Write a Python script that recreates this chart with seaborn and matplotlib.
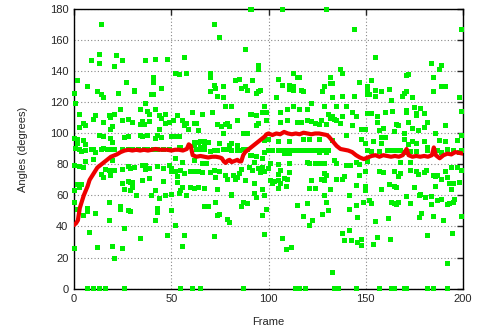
import numpy as np
import pandas as pd
import matplotlib
matplotlib.use("Agg")
import matplotlib.pyplot as plt
import seaborn as sns

# --- Données : angles détectés par frame, par zone ---
pts_top_left = [(14, 170.5), (13, 151), (9, 147), (13, 145), (22, 150), (25, 147), (21, 143), (37, 147),
                (42, 148), (48, 148), (2, 134), (7, 130), (0, 126), (12, 127), (14, 125), (15, 123),
                (23, 126), (27, 133), (31, 128), (31, 127), (41, 136), (41, 133), (45, 129), (40, 125), (41, 125)]
pts_top_mid1 = [(91, 180), (72, 170), (75, 162), (88, 154), (57, 149), (95, 144), (95, 141), (52, 139),
                (54, 138), (58, 139), (70, 139), (70, 136), (72, 131), (73, 129), (77, 130), (70, 127),
                (74, 124), (77, 123), (83, 134), (85, 135), (86, 129), (88, 130), (89, 128), (92, 134),
                (94, 126), (95, 127), (96, 128)]
pts_top_mid2 = [(107, 180), (130, 180), (144, 167), (137, 141), (138, 139), (105, 135), (113, 139), (115, 136),
                (116, 136), (107, 131), (111, 131), (111, 128.5), (113, 130), (113, 128), (117, 128), (118, 127),
                (132, 136), (132, 132), (133, 132), (129, 130), (128, 127), (147, 133), (104, 123), (133, 123),
                (138, 124), (144, 124)]
pts_top_right = [(199, 167), (155, 149), (184, 145), (189, 144), (188, 141), (171, 137.5), (172, 138), (153, 134),
                 (185, 136), (151, 130), (151, 127), (151, 125), (152, 125), (155, 128), (155, 124), (158, 127),
                 (162, 128.5), (169, 124), (170, 126), (171, 127), (174, 123), (185, 127), (189, 130), (191, 130),
                 (198, 123)]
pts_mid_left = [(1, 119.5), (37, 119.5), (24, 115.6), (34, 115.6), (38, 114.3), (3, 112.4), (11, 111.7), (18, 111.7),
                (21, 112.4), (19, 110.4), (39, 112.4), (42, 115.6), (44, 111.7), (45, 109.8), (47, 112.4), (10, 109.1),
                (5, 106.6), (6, 105.3), (3, 104), (15, 107.2), (20, 104.6), (19, 102.7), (25, 108.5), (28, 109.1),
                (30, 107.2), (34, 105.9), (35, 107.8), (36, 105.9), (39, 107.8), (44, 102.7), (47, 106.6),
                (0, 96.9), (2, 96.2), (5, 95.6), (13, 98.8), (15, 98.2), (19, 96.9), (20, 94.3), (26, 97.5),
                (28, 98.2), (34, 98.8), (35, 98.2), (38, 98.8), (42, 96.9), (43, 98.8), (45, 97.5), (6, 93), (2, 93.6),
                (1, 90.4), (3, 89.8), (4, 88.5), (6, 89.1), (9, 89.8), (10, 89.8), (11, 87.9), (14, 89.8), (15, 90.4),
                (17, 89.8), (19, 89.8), (21, 89.8), (25, 89.8), (28, 89.8), (30, 89.8), (33, 89.8), (36, 89.8),
                (38, 89.8), (41, 89.8), (43, 89.8), (46, 89.8),
                (6, 82), (10, 83.3), (0, 79.5), (3, 78.8), (5, 78.2), (20, 82.7), (28, 78.8), (29, 77.5), (31, 78.2),
                (35, 79.5), (37, 79.5), (37, 76.9), (39, 77.5), (43, 78.8), (46, 77.5), (25, 76.9), (16, 76.9),
                (18, 76.2), (19, 74.9), (14, 73.6), (15, 71.7), (19, 73), (21, 76.2),
                (2, 67.2), (4, 67.2), (3, 65.3), (0, 63.3), (25, 67.9), (28, 69.1), (29, 68.5), (30, 68.5),
                (35, 69.8), (39, 71.1), (26, 64), (29, 63.3), (30, 65.3), (42, 63.3), (46, 69.1)]
pts_mid_mid1 = [(53, 111.7), (61, 113.7), (66, 112.4), (62, 106.6), (63, 106.6), (64, 102), (59, 102.7), (71, 113.7),
                (76, 104.6), (78, 105.9), (79, 106.6), (74, 105.9), (77, 100.1), (80, 104.6), (84, 108.5), (78, 117.5),
                (81, 117.5), (91, 112.4), (94, 111.7), (97, 113.7), (98, 117.5), (95, 106.6), (94, 105.3), (89, 100.1),
                (87, 100.1), (51, 108.5), (49, 107.2), (56, 108.5), (57, 105.3), (58, 106.6),
                (50, 98.2), (52, 98.2), (54, 98.2), (62, 94.3), (64, 94.3), (65, 94.9), (67, 94.9), (69, 94.3),
                (67, 93), (62, 92.4), (65, 91.1), (75, 93.6), (80, 92.4), (81, 93.6), (84, 92.4), (84, 89.1),
                (85, 89.1), (81, 89.1), (74, 89.1), (72, 89.1), (70, 88.5), (67, 89.8), (55, 91.1), (54, 91.1),
                (49, 89.8), (63, 89.8), (65, 89.8), (77, 89.8), (79, 89.8), (87, 89.8), (89, 89.8),
                (98, 95.6), (98, 87.9), (91, 85.9), (94, 85.3), (97, 84), (93, 81.4), (56, 81.4), (52, 84),
                (49, 79.5), (50, 77.5), (62, 82.7), (66, 80.7), (68, 80.7), (72, 76.2), (75, 75.6), (70, 74.9),
                (66, 74.9), (64, 75.6), (62, 75.6), (60, 75.6), (57, 74.3), (55, 76.2), (52, 75.6), (50, 75.6),
                (53, 72.4), (53, 68.5), (56, 65.2), (55, 63.3), (54, 61.4), (50, 60.7), (60, 65.2), (62, 64.6),
                (64, 65.2), (67, 64.6), (74, 64), (73, 71.7), (78, 73), (79, 70.4), (82, 73), (83, 70.4),
                (85, 74.3), (88, 69.8), (86, 76.9), (90, 78.2), (92, 76.2), (95, 77.5), (97, 78.2), (98, 75.6),
                (96, 74.9), (93, 67.9), (93, 61.4), (97, 64), (81, 60.7), (84, 71.7)]
pts_mid_mid2 = [(113, 117.5), (122, 119.5), (129, 117.5), (135, 117.5), (140, 117.5), (99, 113.7), (106, 113.7),
                (110, 115.6), (116, 115.6), (120, 115.6), (131, 112.4), (133, 111.1), (134, 109.1), (132, 109.8),
                (138, 111.1), (143, 113.7), (145, 111.1), (99, 108.5), (106, 107.2), (110, 108.5), (115, 107.2),
                (117, 107.2), (120, 108.5), (122, 107.8), (124, 106.6), (126, 105.9), (127, 108.5), (130, 105.9),
                (135, 108.5), (137, 106.6), (143, 105.3), (148, 102.7), (140, 98.8), (148, 96.2),
                (100, 96.2), (105, 94.9), (111, 94.9), (118, 96.2), (121, 96.2), (126, 96.2), (133, 95.6),
                (100, 89.1), (102, 89.1), (105, 89.1), (107, 89.1), (109, 89.1), (111, 89.1), (113, 89.1),
                (115, 89.1), (117, 89.1), (119, 89.1), (121, 89.1), (123, 89.1), (125, 89.1), (127, 89.1),
                (129, 89.1), (131, 89.1), (108, 87.2), (111, 87.2), (126, 87.9), (130, 87.9),
                (101, 80.7), (105, 80.1), (111, 80.7), (120, 81.4), (121, 80.7), (124, 80.7), (126, 80.7),
                (129, 80.7), (134, 82.7), (135, 80.7), (140, 79.5), (142, 79.5), (145, 81.4), (147, 80.1),
                (100, 77.5), (105, 73.6), (106, 76.2), (111, 74.9), (108, 71.1), (105, 69.8), (103, 69.1),
                (101, 69.8), (102, 67.9), (106, 67.9), (110, 70.4), (129, 74.3), (130, 73), (129, 69.8),
                (122, 69.8), (127, 70.4), (132, 64), (135, 70.4), (138, 70.4), (139, 72.4), (147, 73),
                (105, 64.6), (109, 65.9), (121, 64.6), (124, 64.6), (145, 66.5)]
pts_mid_right = [(163, 121), (151, 113), (153, 113), (156, 111.1), (156, 107.2), (160, 113.7), (164, 114.3),
                 (171, 114.9), (171, 113.7), (175, 116.9), (178, 116.2), (176, 113), (180, 113), (176, 111.7),
                 (172, 107.2), (182, 107.2), (191, 105.3), (166, 105.9), (167, 105.3), (165, 101.4), (157, 102),
                 (159, 103.3), (174, 103.3), (177, 102), (180, 104), (199, 114.3), (150, 102.7), (170, 100.1),
                 (186, 100.1), (150, 93.6), (154, 94.9), (158, 97.5), (158, 93.6), (160, 97.5), (170, 96.2),
                 (172, 93), (174, 94.9), (176, 93.6), (180, 94.9), (188, 95.6), (191, 94.9), (197, 95.6),
                 (199, 98.8), (182, 91.1),
                 (151, 89.1), (153, 88.5), (157, 88.5), (161, 89.1), (164, 89.1), (166, 88.8), (168, 89.1),
                 (170, 88), (173, 88.5), (176, 88.5), (182, 89.1), (187, 89.1), (189, 88), (192, 89.8),
                 (195, 89.1), (198, 88), (199, 89.1),
                 (151, 81.8), (168, 81.4), (173, 81.4), (150, 75.6), (157, 75.6), (159, 74.9), (165, 75.6),
                 (168, 74.3), (167, 72.4), (173, 76.2), (176, 75.6), (177, 73.6), (180, 74.9), (181, 76.2),
                 (185, 73), (187, 73), (191, 75.6), (194, 78.2), (197, 78.2), (199, 76.2), (186, 72.4),
                 (189, 70.4), (192, 71.7), (150, 65.9), (150, 63.3), (162, 67.2), (165, 65.9), (166, 65.2),
                 (158, 64), (175, 65.2), (186, 65.9), (193, 67.9), (195, 67.9), (194, 64), (198, 68.5), (178, 60.7)]
pts_low_left = [(32, 59.7), (40, 60.3), (44, 58.2), (47, 59.7), (0, 55.6), (18, 55.6), (2, 51.1), (7, 51.7),
                (7, 49.8), (11, 48.5), (24, 53), (24, 51.1), (28, 50.4), (29, 49.8), (43, 51.7), (43, 49.1),
                (42, 44), (18, 44), (5, 47.2), (8, 36.2), (26, 38.8), (34, 32.4), (48, 34.3), (0, 25.9),
                (12, 26.6), (20, 27.2), (25, 25.9), (21, 19.5), (7, 0), (10, 0), (13, 0), (16, 0), (26, 0)]
pts_low_mid1 = [(58, 60.3), (81, 60.3), (94, 58.8), (98, 60.3), (50, 50.4), (67, 53), (69, 53), (73, 55.6),
                (74, 47.2), (75, 47.8), (79, 44.6), (80, 42.7), (86, 53), (87, 55.6), (89, 54.9), (97, 47.2),
                (52, 40.7), (57, 34.3), (72, 33.6), (98, 34.9), (56, 27.2), (55, 0), (61, 0), (65, 0), (87, 0)]
pts_low_mid2 = [(129, 60.3), (141.5, 59.7), (149, 55.6), (115, 53.7), (120, 54.9), (130, 55.6), (131, 50.4),
                (128, 47.8), (118, 46.6), (122.5, 44), (121, 40.7), (141.5, 51.1), (145, 53.7), (146, 45.9),
                (99, 51.1), (107, 32.4), (109, 25.3), (112, 26.6), (138, 35.6), (141.5, 37.5), (139, 31.1),
                (142.5, 31.1), (146, 29.8), (147.6, 31.7), (147.6, 27.8), (133, 10.4), (114, 0), (116, 0),
                (119, 0), (134, 0), (136, 0), (145, 0)]
pts_low_right = [(152, 56.9), (153, 54.9), (163, 55.6), (165, 54.9), (166, 54.3), (167, 55.6), (171, 59.5),
                 (173, 54.9), (177.5, 60.3), (180.5, 58.8), (183.6, 59.5), (183.6, 54.3), (187, 56.9), (189, 57.5),
                 (192, 54.3), (193, 54.9), (195, 55.6), (195.4, 57.5), (155, 43.3), (161.5, 45.3), (177.5, 45.9),
                 (178.5, 48.5), (184.6, 46.6), (190, 44), (199, 46.6), (156, 33), (162.6, 31.7), (154, 28.5),
                 (181.6, 34.3), (194.4, 35.6), (192, 16.2), (157, 0), (163, 0), (165, 0), (170, 0), (171, 0),
                 (182, 0), (185, 0), (192, 0)]

# --- Courbe lissée (rouge) ---
red_frames = [0, 1, 2, 3, 4, 5, 6, 7, 8, 9, 10, 11, 12, 13, 14, 15, 16, 17, 18, 19, 20, 22, 24, 26, 28, 30,
              32, 34, 36, 38, 40, 42, 44, 46, 48, 50, 52, 54, 56, 58, 59, 60, 61, 63, 65, 67, 69, 71, 73, 75,
              76, 77, 78, 79, 80, 81, 82, 83, 84, 85, 86, 87, 88, 90, 92, 94, 96, 98, 99, 100, 102, 104, 106,
              108, 110, 112, 114, 116, 118, 120, 122, 124, 126, 128, 130, 131, 133, 135, 137, 139, 141, 143,
              145, 147, 149, 151, 153, 155, 157, 159, 161, 163, 165, 167, 169, 171, 172, 174, 176, 178, 180,
              182, 184, 185, 186, 188, 190, 192, 194, 196, 198, 200]
red_angles = [41, 42, 44, 52, 56, 60, 63, 66, 70, 72, 74, 76, 78, 79, 80, 81, 82, 83, 84, 85, 85.5, 86.5, 88,
              89, 89.5, 89, 89.5, 89, 89.5, 89, 89.5, 90, 89.5, 89.5, 89.5, 89, 89.5, 89.5, 89, 90, 93, 92, 86,
              85, 85.5, 85, 84.5, 85, 85, 84.5, 84, 82, 81, 82.5, 83, 81.5, 82, 82.5, 83, 82, 82, 86, 88, 90,
              92, 94, 96, 98, 99.5, 100, 99, 100, 99.5, 101, 100, 99.5, 100, 99.5, 100.5, 100, 99.5, 100, 100,
              99.5, 99, 98, 95, 92, 90, 89.5, 89, 88, 86, 84.5, 83.5, 84.5, 85.5, 86, 85, 86, 85.5, 85, 85.5,
              85, 86, 90, 86, 85, 85.5, 85, 85.5, 85, 86, 91, 86, 84, 86, 87, 86.5, 88, 87.5, 87]

regions = [pts_top_left, pts_top_mid1, pts_top_mid2, pts_top_right, pts_mid_left, pts_mid_mid1,
           pts_mid_mid2, pts_mid_right, pts_low_left, pts_low_mid1, pts_low_mid2, pts_low_right]
df = pd.DataFrame([p for r in regions for p in r], columns=["frame", "angle"])

sns.set_style("white")
plt.rcParams["font.family"] = ["Liberation Sans", "DejaVu Sans"]

fig = plt.figure(figsize=(4.79, 3.33), dpi=100)
ax = fig.add_axes([0.1545, 0.1336, 0.8121, 0.838])

sns.scatterplot(data=df, x="frame", y="angle", marker="s", s=13, color="#00ee00",
                edgecolor="none", linewidth=0, legend=False, ax=ax, clip_on=False, zorder=3)
sns.lineplot(x=red_frames, y=red_angles, color="#ee0000", lw=3, ax=ax, zorder=4)

ax.set_xlim(0, 200)
ax.set_ylim(0, 180)
ax.set_xticks([0, 50, 100, 150, 200])
ax.set_yticks(np.arange(0, 181, 20))
ax.grid(True, color="#888888", linestyle=(0, (1, 2)), linewidth=0.8)
ax.set_axisbelow(True)
ax.tick_params(direction="in", length=4, width=1, top=True, right=True, labelsize=8, pad=4)
for s in ax.spines.values():
    s.set_color("black")
    s.set_linewidth(1)
ax.set_xlabel("Frame", fontsize=8, labelpad=9)
ax.set_ylabel("Angles (degrees)", fontsize=8, labelpad=16)

fig.savefig("out.png", dpi=100)
